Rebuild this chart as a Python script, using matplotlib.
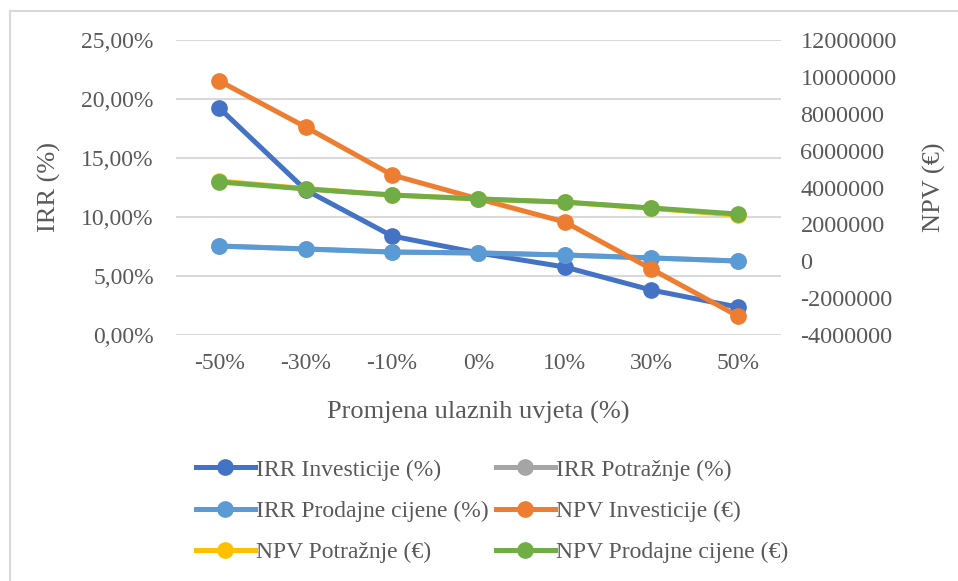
import matplotlib
matplotlib.use("Agg")
import matplotlib.pyplot as plt
from matplotlib.lines import Line2D
from matplotlib.ticker import FuncFormatter, FixedLocator

plt.rcParams['font.family'] = ['Liberation Serif', 'DejaVu Serif']

categories = ["-50%", "-30%", "-10%", "0%", "10%", "30%", "50%"]
irr_investicije = [19.24, 12.29, 8.39, 6.95, 5.76, 3.81, 2.37]
irr_potraznje = [7.54, 7.29, 7.03, 6.95, 6.78, 6.53, 6.27]
irr_prodajne = [7.54, 7.29, 7.03, 6.95, 6.78, 6.53, 6.27]
npv_investicije = [9780000, 7280000, 4680000, 3380000, 2130000, -420000, -2970000]
npv_potraznje = [4350000, 3940000, 3600000, 3380000, 3200000, 2870000, 2500000]
npv_prodajne = [4300000, 3920000, 3590000, 3380000, 3210000, 2890000, 2560000]

left_ticks = [0, 5, 10, 15, 20, 25]
right_ticks = [-4000000, -2000000, 0, 2000000, 4000000, 6000000, 8000000, 10000000, 12000000]

TXT = '#595959'
GRID = '#D9D9D9'
FS = 17

fig = plt.figure(figsize=(9.58, 5.81), dpi=100)
ax = fig.add_axes([176/958, 1-335/581, (781-176)/958, 295/581])
ax2 = ax.twinx()

x = list(range(len(categories)))
lw = 3.6
ms = 11
ax.plot(x, irr_investicije, color='#4472C4', lw=lw, marker='o', ms=ms, label='IRR Investicije (%)')
ax.plot(x, irr_potraznje, color='#A5A5A5', lw=lw, marker='o', ms=ms, label='IRR Potražnje (%)')
ax.plot(x, irr_prodajne, color='#5B9BD5', lw=lw, marker='o', ms=ms, label='IRR Prodajne cijene (%)')
ax2.plot(x, npv_investicije, color='#ED7D31', lw=lw, marker='o', ms=ms, label='NPV Investicije (€)')
ax2.plot(x, npv_potraznje, color='#FFC000', lw=lw, marker='o', ms=ms, label='NPV Potražnje (€)')
ax2.plot(x, npv_prodajne, color='#70AD47', lw=lw, marker='o', ms=ms, label='NPV Prodajne cijene (€)')

ax.set_xlim(-0.5, len(categories) - 0.5)
ax.set_ylim(0, 25)
ax2.set_ylim(-4000000, 12000000)
ax.yaxis.set_major_locator(FixedLocator(left_ticks))
ax2.yaxis.set_major_locator(FixedLocator(right_ticks))
ax.yaxis.set_major_formatter(FuncFormatter(lambda v, p: f"{v:.2f}".replace('.', ',') + '%'))
ax2.yaxis.set_major_formatter(FuncFormatter(lambda v, p: f"{int(v)}"))
ax.set_xticks(x)
ax.set_xticklabels(categories)

for a in (ax, ax2):
    for s in a.spines.values():
        s.set_visible(False)
ax.grid(axis='y', color=GRID, lw=1.5)
ax.set_axisbelow(True)
ax.tick_params(axis='y', length=0, pad=16, labelsize=FS, labelcolor=TXT)
ax.tick_params(axis='x', length=0, pad=13, labelsize=FS, labelcolor=TXT)
ax2.tick_params(axis='y', length=0, pad=14, labelsize=FS + 0.5, labelcolor=TXT)

ax.set_ylabel('IRR (%)', fontsize=FS + 2, color=TXT)
ax.yaxis.set_label_coords((61-176)/605, 0.5)
ax2.set_ylabel('NPV (€)', fontsize=FS + 2, color=TXT)
ax2.yaxis.set_label_coords((923-176)/605, 0.5)
ax.set_xlabel('Promjena ulaznih uvjeta (%)', fontsize=FS + 2, color=TXT)
ax.xaxis.set_label_coords(0.5, -(401-335)/295)

h1, l1 = ax.get_legend_handles_labels()
h2, l2 = ax2.get_legend_handles_labels()
handles = h1 + h2
labels = l1 + l2
order = [0, 2, 4, 1, 3, 5]
leg = fig.legend([handles[i] for i in order], [labels[i] for i in order],
                 loc='center', ncol=2, frameon=False,
                 bbox_to_anchor=(492/958, 1-511/581), fontsize=FS,
                 handlelength=2.5, handletextpad=0.05, columnspacing=0.3,
                 labelspacing=0.83, labelcolor=TXT)

fig.add_artist(Line2D([9.5/958, 1.0], [1-10.5/581, 1-10.5/581], color=GRID, lw=1.5, transform=fig.transFigure))
fig.add_artist(Line2D([9.5/958, 9.5/958], [0, 1-10.5/581], color=GRID, lw=1.5, transform=fig.transFigure))

fig.savefig('out.png', dpi=100)
